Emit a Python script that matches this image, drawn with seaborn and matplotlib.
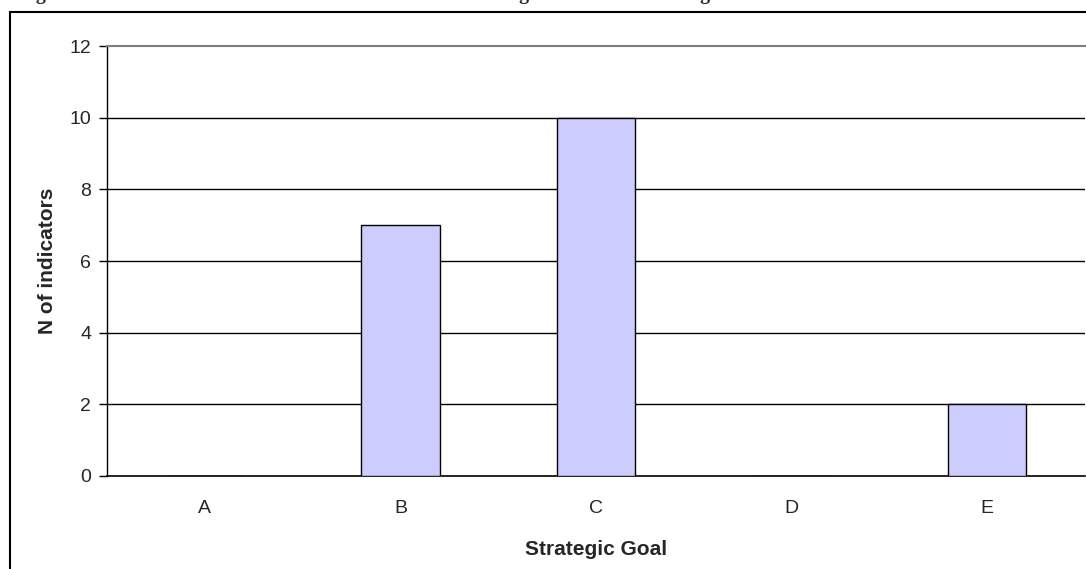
import matplotlib
matplotlib.use("Agg")
import matplotlib.pyplot as plt
from matplotlib.patches import Rectangle
import seaborn as sns
import pandas as pd

categories = ["A", "B", "C", "D", "E"]
values = [0, 7, 10, 0, 2]
y_ticks = [0, 2, 4, 6, 8, 10, 12]
title_text = "Figure 3: Number of indicators associated with each Strategic Goal in the Strategic Plan"

sns.set_theme(style="white")
plt.rcParams["font.family"] = ["Liberation Sans", "DejaVu Sans"]

W, H = 1086, 569
fig = plt.figure(figsize=(W / 100, H / 100), dpi=100)
fig.patch.set_facecolor("white")

# outer chart-area border (extends beyond right/bottom of crop)
fig.patches.append(Rectangle((10 / W, -0.1), 1.2, (H - 12) / H + 0.1,
                             transform=fig.transFigure, fill=False,
                             edgecolor="black", linewidth=1.5))

# cropped title (only descenders visible)
fig.text(18 / W, 1 + 1.0 / H, title_text, ha="left", va="baseline",
         fontsize=14.4, fontweight="bold", family=["Liberation Serif", "DejaVu Serif"])

ax = fig.add_axes([107 / W, (H - 476) / H, 978 / W, 430 / H])
df = pd.DataFrame({"goal": categories, "n": values})
sns.barplot(data=df, x="goal", y="n", ax=ax, color="#CCCCFF", width=0.4,
            edgecolor="black", linewidth=1.0, saturation=1, zorder=3)

fs = 14
ax.set_ylim(0, 12)
ax.set_xlim(-0.5, len(categories) - 0.5)
ax.set_yticks(y_ticks)
ax.set_yticklabels([str(v) for v in y_ticks], fontsize=fs)
for v in y_ticks[1:-1]:
    ax.axhline(v, color="black", linewidth=1.0, zorder=1)

ax.set_xticks(range(len(categories)))
ax.set_xticklabels(categories, fontsize=fs)
ax.tick_params(axis="x", which="major", length=0, pad=17)
ax.set_xticks([i - 0.5 for i in range(len(categories) + 1)], minor=True)
ax.tick_params(axis="x", which="minor", length=5, width=1, color="black", direction="out")
ax.tick_params(axis="y", length=5.5, width=1, color="black", direction="out", pad=6, left=True)

ax.spines["left"].set_color("black")
ax.spines["bottom"].set_color("black")
ax.spines["left"].set_linewidth(1.0)
ax.spines["bottom"].set_linewidth(1.2)
ax.spines["top"].set_color("#808080")
ax.spines["top"].set_linewidth(1.5)
ax.spines["right"].set_visible(False)

ax.set_xlabel("Strategic Goal", fontsize=15, fontweight="bold", labelpad=17)
ax.set_ylabel("N of indicators", fontsize=15, fontweight="bold", labelpad=9)

fig.savefig("out.png", dpi=100)
